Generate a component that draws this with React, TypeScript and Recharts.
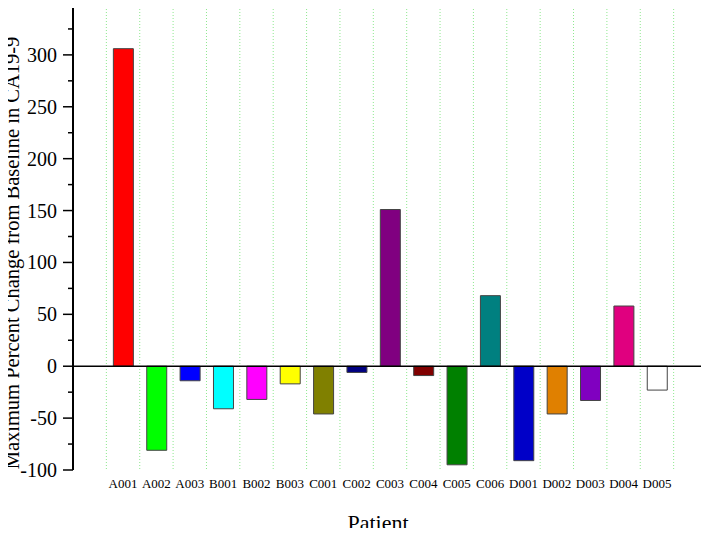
import { BarChart, Bar, XAxis, YAxis, CartesianGrid, ReferenceLine, Cell } from 'recharts';

const patients = ['A001', 'A002', 'A003', 'B001', 'B002', 'B003', 'C001', 'C002', 'C003', 'C004', 'C005', 'C006', 'D001', 'D002', 'D003', 'D004', 'D005'];
const changes = [306, -81, -14, -41, -32, -17, -46, -6, 151, -9, -95, 68, -91, -46, -33, 58, -23];
const barColors = ['#ff0000', '#00ff00', '#0000ff', '#00ffff', '#ff00ff', '#ffff00', '#808000', '#000080', '#800080', '#800000', '#008000', '#008080', '#0000c8', '#e08000', '#8000c0', '#e0007f', '#ffffff'];
const yTicks = [-100, -75, -50, -25, 0, 25, 50, 75, 100, 125, 150, 175, 200, 225, 250, 275, 300, 325, 350];
const yLabels = [-100, -50, 0, 50, 100, 150, 200, 250, 300];

const data = patients.map((name, i) => ({ name, change: changes[i] }));

const serif = '"Liberation Serif", "Times New Roman", serif';

const YTick = (props: any) => {
  const { x, y, payload } = props;
  const major = payload.value % 50 === 0;
  return (
    <g>
      <line x1={x + (major ? 6 : 11)} x2={x + 16} y1={y} y2={y} stroke="#000" strokeWidth={1.5} />
      {yLabels.includes(payload.value) && (
        <text x={x} y={y} textAnchor="end" dominantBaseline="central" fontSize={20} fontFamily={serif} fill="#000">
          {payload.value}
        </text>
      )}
    </g>
  );
};

// vertical grid sits on the band boundaries (one empty band at each end)
const gridX = ({ offset }: any) => {
  const n = patients.length + 2;
  const step = offset.width / n;
  return Array.from({ length: n - 1 }, (_, i) => offset.left + step * (i + 1));
};

const App = () => {
  return (
    <div style={{ margin: -8 }}>
      <BarChart width={709} height={536} data={data} margin={{ top: 3, right: 2, left: 0, bottom: 0 }} barSize={20}>
        <CartesianGrid horizontal={false} stroke="#8ee88e" strokeDasharray="1 2" verticalCoordinatesGenerator={gridX} />
        <XAxis
          dataKey="name"
          height={66}
          axisLine={false}
          tickLine={false}
          tickSize={0}
          tickMargin={9}
          interval={0}
          padding={{ left: 634 / 19, right: 634 / 19 }}
          tick={{ fontSize: 13, fill: '#000', fontFamily: serif }}
          label={{
            content: (p: any) => (
              <text x={p.viewBox.x + 305} y={p.viewBox.y + 60} textAnchor="middle" fontSize={22} fontFamily={serif} fill="#000">
                Patient
              </text>
            ),
          }}
        />
        <YAxis
          width={73}
          domain={[-100, 350]}
          ticks={yTicks}
          interval={0}
          tickSize={10}
          tickMargin={6}
          tickLine={false}
          axisLine={{ stroke: '#000', strokeWidth: 2 }}
          tick={<YTick />}
          label={{
            content: (p: any) => (
              <text
                transform={`translate(${p.viewBox.x + 19}, ${p.viewBox.y + 250}) rotate(-90)`}
                textAnchor="middle"
                fontSize={20.5}
                fontFamily={serif}
                fill="#000"
              >
                Maximum Percent Change from Baseline in CA19-9
              </text>
            ),
          }}
        />
        <ReferenceLine y={0} stroke="#000" strokeWidth={1.5} />
        <Bar dataKey="change" stroke="#444" strokeWidth={1} isAnimationActive={false}>
          {data.map((d, i) => (
            <Cell key={d.name} fill={barColors[i]} />
          ))}
        </Bar>
      </BarChart>
    </div>
  );
};

export default App;
